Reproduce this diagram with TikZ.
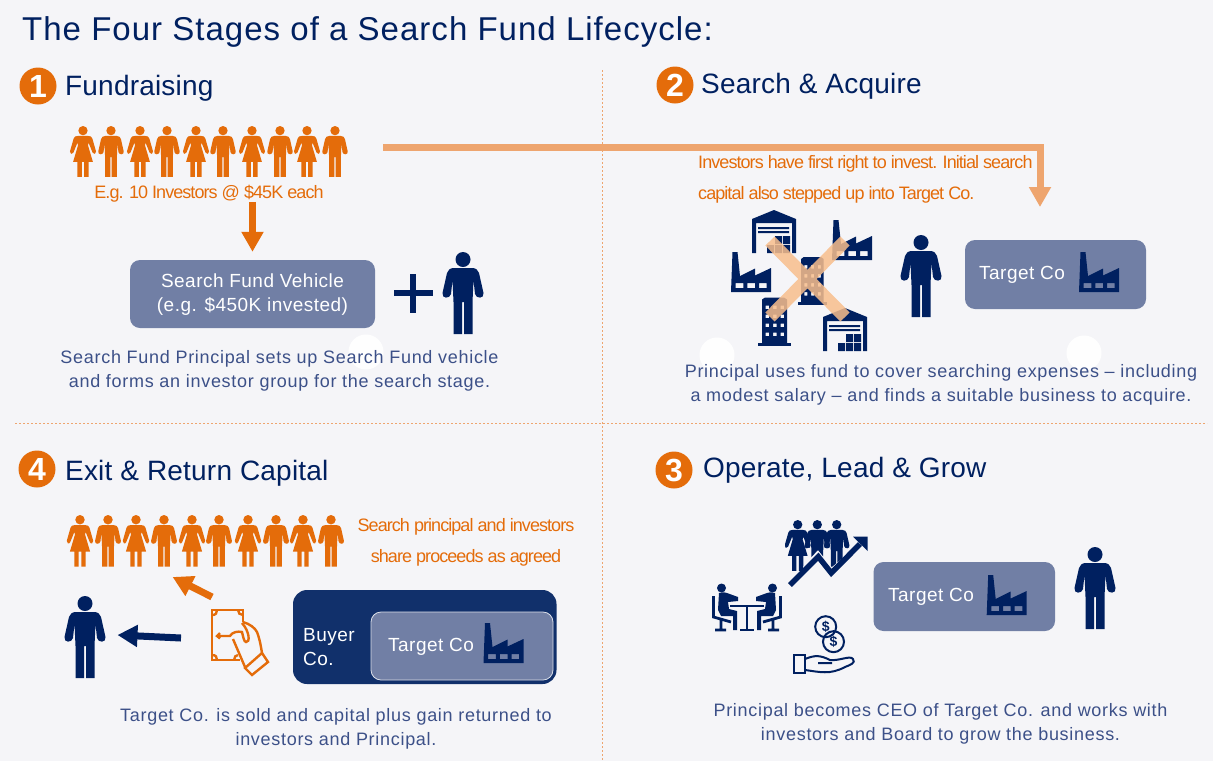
\documentclass[tikz,border=0pt]{standalone}
\usepackage{fontspec}
\setmainfont{Liberation Sans}
\usepackage{xcolor}
\usetikzlibrary{arrows.meta}
\definecolor{pagebg}{HTML}{F5F5F8}
\definecolor{navy}{HTML}{002060}
\definecolor{orng}{HTML}{E46C0A}
\definecolor{softorng}{HTML}{EEA56F}
\definecolor{crossorng}{HTML}{F8BE8C}
\definecolor{slate}{HTML}{717FA5}
\definecolor{buyerblue}{HTML}{11306B}
\definecolor{bodyblue}{HTML}{3C5088}

\begin{document}
\begin{tikzpicture}[x=1pt,y=-1pt,
      head/.style={font=\fontsize{28}{32}\selectfont\addfontfeature{LetterSpace=0.7},text=navy,anchor=base west,inner sep=0pt},
      body/.style={font=\fontsize{18}{24}\selectfont\addfontfeature{LetterSpace=3.9},text=bodyblue,align=center,inner sep=0pt},
      note/.style={font=\fontsize{18}{31}\selectfont\addfontfeature{LetterSpace=-5.2},text=orng,inner sep=0pt},
      badge/.style={circle,fill=orng,text=white,inner sep=0pt,minimum size=37pt,font=\fontsize{32}{32}\selectfont\bfseries},
      tbox/.style={draw=none,fill=slate,rounded corners=10pt},
      boxtext/.style={font=\fontsize{19}{24}\selectfont\addfontfeature{LetterSpace=2.5},text=white,align=left,inner sep=0pt},
      softarr/.style={draw=softorng,line width=7pt,-{Triangle[width=21pt,length=20pt]}},
      orngarr/.style={draw=orng,line width=7pt,-{Triangle[width=21pt,length=20pt]}},
      navyarr/.style={draw=navy,line width=7pt,-{Triangle[width=21pt,length=20pt]}},
      rule/.style={dash pattern=on 2pt off 2pt,draw=softorng,line width=0.8pt},
      man/.pic={
        \fill (0,7.5) circle (7.5);
        \fill (-9,16) -- (9,16) .. controls (13,16) and (15,18) .. (16,21) -- (20.5,41) .. controls (21.5,47) and (13,47) .. (12,42) -- (10.5,28) -- (9.5,50) -- (9.5,82) -- (1,82) -- (1,50) -- (-1,50) -- (-1,82) -- (-9.5,82) -- (-9.5,50) -- (-10.5,28) -- (-12,42) .. controls (-13,47) and (-21.5,47) .. (-20.5,41) -- (-16,21) .. controls (-15,18) and (-13,16) .. (-9,16) -- cycle;
      },
      woman/.pic={
        \fill (0,7.5) circle (7.5);
        \fill (-8,16) -- (8,16) .. controls (12,16) and (14,17) .. (15,20) -- (21,41) .. controls (22,45) and (17,47) .. (15.5,43) -- (9,27) -- (8,31) -- (16,58) -- (9,58) -- (9,82) -- (2,82) -- (2,58) -- (-2,58) -- (-2,82) -- (-9,82) -- (-9,58) -- (-16,58) -- (-8,31) -- (-9,27) -- (-15.5,43) .. controls (-17,47) and (-22,45) .. (-21,41) -- (-15,20) .. controls (-14,17) and (-12,16) .. (-8,16) -- cycle;
      },
      factory/.pic={
        \fill[even odd rule] (0,40) -- (1.5,0) -- (6.5,0) -- (9,24) -- (24,16.5) -- (24,23.5) -- (40,16) -- (40,40) -- cycle
          (4.7,31) rectangle (12.3,36) (16.3,31) rectangle (24,36) (28,31) rectangle (35.7,36);
      },
      store/.pic={
        \fill (0,9) -- (22,0) -- (44,9) -- (44,43) -- (40,43) -- (40,13) -- (4,13) -- (4,43) -- (0,43) -- cycle;
        \fill (6,17) rectangle (37,19) (6,21) rectangle (37,23);
        \fill (15,35) rectangle (22,43) (23,35) rectangle (30,43) (31,35) rectangle (38,43) (23,26) rectangle (30,34) (31,26) rectangle (38,34);
      },
      tower/.pic={
        \fill (0,45) rectangle (33,48);
        \fill[even odd rule] (4,46) -- (4,2) -- (7,0) -- (26,0) -- (29,2) -- (29,46) -- cycle
          \foreach \wy in {8,17,26,35} {(7.5,\wy) rectangle (11,\wy+3.6) (15,\wy) rectangle (18.5,\wy+3.6) (22.5,\wy) rectangle (26,\wy+3.6)};
      },
      sitter/.pic={
        \fill (-25.5,5) circle (4.5);
        \fill (-28,10) .. controls (-25,9) and (-22,9) .. (-20,10) -- (-9,14) -- (-9,18) -- (-19,19) -- (-18,26) -- (-10,28) -- (-10,47) -- (-14,47) -- (-14,33) -- (-26,33) -- (-29,27) -- cycle;
        \draw[line width=2.8pt] (-33.5,13) -- (-33.5,34) -- (-16,39) (-26,37) -- (-26,46) (-32,47) -- (-21,47);
      }]
    % page and dashed rules
    \path[use as bounding box,fill=pagebg] (0,0) rectangle (1213,761);
    \draw[rule] (602,70) -- (602,761);
    \draw[rule] (15,423) -- (1207,423);
    \foreach \spotx/\spoty in {366/352,717/355,1084/353} {
      \fill[white,opacity=0.9] (\spotx,\spoty) circle (17.5);
    }
    \node[font=\fontsize{33}{36}\selectfont\addfontfeature{LetterSpace=3.1},text=navy,anchor=base west,inner sep=0pt] (title) at (22,40) {The Four Stages of a Search Fund Lifecycle:};

    % stage 1
    \node[badge] (one) at (38,86) {1};
    \node[head] (onehead) at (65,95) {Fundraising};
    \foreach \px [count=\i] in {83,111,140,167,196,223,252,280,307,335} {
      \ifodd\i \pic[scale=0.62,color=orng] at (\px,126) {woman}; \else \pic[scale=0.62,color=orng] at (\px,126) {man}; \fi
    }
    \node[note,anchor=base] (onenote) at (209,198) {E.g. 10 Investors @ \$45K each};
    \node[tbox,minimum width=245pt,minimum height=68pt] (vehicle) at (252.5,294) {};
    \node[boxtext,align=center] (vehicletxt) at (252.5,295) {Search Fund Vehicle\\(e.g. \$450K invested)};
    \draw[orngarr,shorten >=8pt] (vehicle.north |- onenote.south) -- (vehicle.north);
    \draw[navy,line width=6pt] (394,293) -- (433,293) (413,274) -- (413,313);
    \pic[color=navy] at (463,252) {man};
    \node[body] (onebody) at (279.5,371) {Search Fund Principal sets up Search Fund vehicle\\and forms an investor group for the search stage.};

    % stage 2
    \node[badge] (two) at (675,85) {2};
    \node[head] (twohead) at (701,93) {Search \& Acquire};
    \coordinate (feedstart) at (383,147);
    \coordinate (feedend) at (1040,207);
    \draw[softarr] (feedstart) -| (feedend);
    \node[note,align=left,anchor=west] (twonote) at (698,179) {Investors have first right to invest. Initial search\\capital also stepped up into Target Co.};
    \pic[color=navy] at (752,210) {store};
    \pic[color=navy] at (832,220) {factory};
    \pic[color=navy] at (731,252) {factory};
    \pic[color=navy,xscale=0.9] at (797.5,257) {tower};
    \pic[color=navy] at (758,297.5) {tower};
    \pic[color=navy] at (823,308) {store};
    \draw[crossorng,opacity=0.85,line width=13pt] (770,241) -- (845,317) (845,241) -- (770,317);
    \pic[color=navy] at (921,235) {man};
    \node[tbox,minimum width=181pt,minimum height=69pt] (targetb) at (1055.5,274.5) {};
    \node[boxtext,anchor=base west] (targetbtxt) at (979,279.5) {Target Co};
    \pic[color=navy] at (1079,252) {factory};
    \node[body] (twobody) at (941,385) {Principal uses fund to cover searching expenses -- including\\a modest salary -- and finds a suitable business to acquire.};

    % stage 4
    \node[badge] (four) at (37,469) {4};
    \node[head] (fourhead) at (65,480) {Exit \& Return Capital};
    \foreach \px [count=\i] in {80,108,136,164,192,219,248,276,303,331} {
      \ifodd\i \pic[scale=0.63,color=orng] at (\px,515) {woman}; \else \pic[scale=0.63,color=orng] at (\px,515) {man}; \fi
    }
    \node[note,align=center] (fournote) at (466,542) {Search principal and investors\\share proceeds as agreed};
    \pic[color=navy] at (85,596) {man};
    \coordinate (cashleft) at (181,638);
    \coordinate (manright) at (117.5,635);
    \draw[navyarr] (cashleft) -- (manright);
    \coordinate (cashup) at (212,597);
    \coordinate (rowdown) at (172.6,577);
    \draw[orngarr] (cashup) -- (rowdown);
    % hand with banknote
    \draw[orng,line width=2.4pt] (243,622) -- (243,610) -- (212,610) -- (212,660) -- (240,660);
    \draw[orng,line width=2.4pt] (212,615) .. controls (216,615) and (217,613) .. (217,610) (238,610) .. controls (238,613) and (240,615) .. (243,615);
    \draw[orng,line width=2.4pt] (212,655) .. controls (216,655) and (217,657) .. (217,660) (234,660) .. controls (234,657) and (236,655) .. (238,655);
    \draw[orng,line width=2.4pt] (220,633) -- (217,636) -- (220,638.5) (217,636) -- (230,636) .. controls (232,632) and (238,631) .. (242,632) .. controls (243,636) and (244,642) .. (246,642) .. controls (250,643) and (250,632) .. (242,623);
    \draw[orng,line width=2.4pt] (243,622) .. controls (250,624) and (255,628) .. (257,632) .. controls (260,640) and (261,647) .. (262,653) (233,639) -- (239,653) -- (245,667);
    \draw[orng,line width=2.4pt] (245,668) -- (262,653) -- (268,662) -- (252,675) -- cycle;
    \node[draw=none,fill=buyerblue,rounded corners=14pt,minimum width=263.5pt,minimum height=94pt] (buyer) at (424.75,637) {};
    \node[boxtext] (buyertxt) at (329,647) {Buyer\\Co.};
    \node[tbox,draw=white!75!slate,line width=0.8pt,minimum width=182pt,minimum height=68pt] (targetd) at (462,646) {};
    \node[boxtext,anchor=base west] (targetdtxt) at (388,651.5) {Target Co};
    \pic[color=navy] at (483.5,623) {factory};
    \node[body] (fourbody) at (336,729) {Target Co. is sold and capital plus gain returned to\\investors and Principal.};

    % stage 3
    \node[badge] (three) at (674,470) {3};
    \node[head] (threehead) at (703,477) {Operate, Lead \& Grow};
    \pic[color=navy] at (747,583) {sitter};
    \pic[color=navy,xscale=-1] at (747,583) {sitter};
    \draw[navy,line width=2.5pt] (730,606) -- (764,606);
    \draw[navy,line width=2.8pt] (747,606) -- (747,629) (740,630) -- (754,630);
    \begin{scope}
      \clip (785,515) -- (870,515) -- (870,536) -- (831.7,567) -- (818,550) -- (803,566) -- (803,575) -- (785,575) -- cycle;
      \pic[scale=0.62,color=navy] at (797.7,520) {woman};
      \pic[scale=0.62,color=navy] at (817.3,520) {man};
      \pic[scale=0.62,color=navy] at (836.7,520) {man};
    \end{scope}
    \draw[navy,line width=5.5pt] (790,585) -- (818.3,556.7) -- (831.3,573) -- (860,544);
    \fill[navy] (853,536.7) -- (867.7,536.7) -- (867.7,551) -- cycle;
    \node[draw=navy,circle,line width=2pt,minimum size=21pt,inner sep=0pt,font=\fontsize{14}{14}\selectfont\bfseries,text=navy] (coina) at (825.7,626.7) {\$};
    \node[draw=navy,circle,line width=2pt,minimum size=21pt,inner sep=0pt,font=\fontsize{14}{14}\selectfont\bfseries,text=navy] (coinb) at (833.5,641.7) {\$};
    \draw[navy,line width=2pt] (794,655) rectangle (805,673);
    \draw[navy,line width=2pt] (805,659) .. controls (815,655) and (820,655) .. (830,660) .. controls (840,661) and (850,655) .. (853,659) .. controls (856,663) and (850,665) .. (845,667) .. controls (830,675) and (820,672) .. (805,670) (818,663) -- (832,663);
    \node[tbox,minimum width=181.5pt,minimum height=69pt] (targetc) at (964.25,596.5) {};
    \node[boxtext,anchor=base west] (targetctxt) at (888,601.5) {Target Co};
    \pic[color=navy] at (986.7,575) {factory};
    \pic[color=navy] at (1095,547) {man};
    \node[body] (threebody) at (940.5,723.5) {Principal becomes CEO of Target Co. and works with\\investors and Board to grow the business.};
  \end{tikzpicture}
\end{document}
